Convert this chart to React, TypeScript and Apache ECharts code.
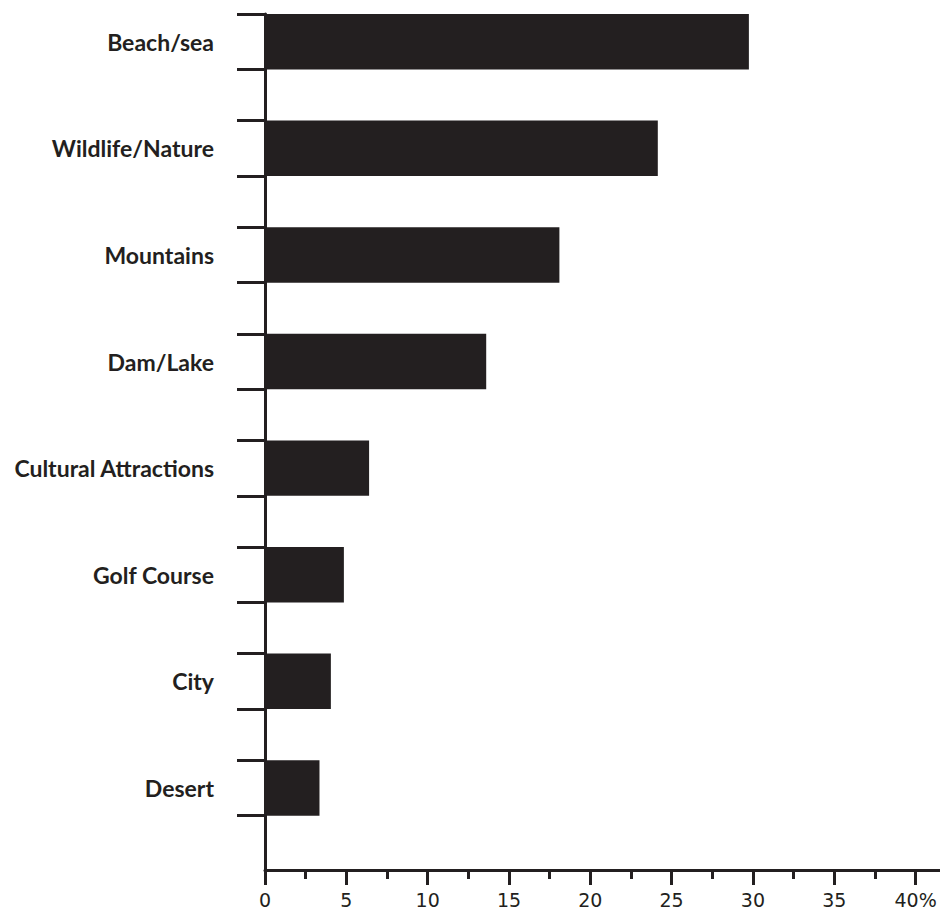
import React, { useEffect, useRef } from "react";
import * as echarts from "echarts";

const categories = [
  "Beach/sea",
  "Wildlife/Nature",
  "Mountains",
  "Dam/Lake",
  "Cultural Attractions",
  "Golf Course",
  "City",
  "Desert",
];
const values = [29.75, 24.15, 18.1, 13.6, 6.4, 4.85, 4.05, 3.35];
const xTickValues = [0, 5, 10, 15, 20, 25, 30, 35, 40];
const xMinorTickValues = [2.5, 7.5, 12.5, 17.5, 22.5, 27.5, 32.5, 37.5];
const xTickLabels = ["0", "5", "10", "15", "20", "25", "30", "35", "40%"];

const BAR_BAND = 0.52;
const INK = "#231f20";

export default function App() {
  const ref = useRef<HTMLDivElement>(null);

  useEffect(() => {
    if (!ref.current) return;
    const chart = echarts.init(ref.current, undefined, { renderer: "svg" });
    const idx = categories.map((_, i) => i);
    const yTicks: number[] = [];
    idx.forEach((i) => {
      yTicks.push(i - BAR_BAND / 2, i + BAR_BAND / 2);
    });
    chart.setOption({
      animation: false,
      backgroundColor: "#ffffff",
      grid: { left: 265, right: 0, top: 14, bottom: 41, containLabel: false },
      xAxis: [
        {
          type: "value",
          position: "bottom",
          min: 0,
          max: 41.5,
          interval: 5,
          splitLine: { show: false },
          axisLine: { show: true, onZero: false, lineStyle: { color: INK, width: 3 } },
          axisTick: {
            show: true,
            customValues: xTickValues,
            length: 15,
            lineStyle: { color: INK, width: 3 },
          },
          axisLabel: {
            customValues: xTickValues,
            formatter: (v: number) => {
              const k = xTickValues.indexOf(v);
              return k >= 0 ? xTickLabels[k] : "";
            },
            color: INK,
            fontFamily: "DejaVu Sans",
            fontSize: 19,
            lineHeight: 19,
            margin: 20,
          },
        },
        {
          type: "value",
          position: "bottom",
          min: 0,
          max: 41.5,
          interval: 5,
          splitLine: { show: false },
          axisLine: { show: false, onZero: false },
          axisTick: {
            show: true,
            customValues: xMinorTickValues,
            length: 9,
            lineStyle: { color: INK, width: 3 },
          },
          axisLabel: { show: false },
        },
      ],
      yAxis: {
        type: "value",
        inverse: true,
        min: -BAR_BAND / 2,
        max: 7.77,
        splitLine: { show: false },
        axisLine: { show: true, onZero: false, lineStyle: { color: INK, width: 3 } },
        axisTick: {
          show: true,
          customValues: yTicks,
          length: 28,
          lineStyle: { color: INK, width: 3 },
        },
        axisLabel: {
          customValues: idx,
          formatter: (v: number) => categories[Math.round(v)] ?? "",
          color: INK,
          fontFamily: "Lato",
          fontWeight: "bold",
          fontSize: 23,
          margin: 51,
        },
      },
      series: [
        {
          type: "custom",
          xAxisIndex: 0,
          yAxisIndex: 0,
          data: values.map((v, i) => [v, i]),
          renderItem: (params: any, api: any) => {
            const v = api.value(0);
            const i = api.value(1);
            const start = api.coord([0, i]);
            const end = api.coord([v, i]);
            const h = api.size([0, BAR_BAND])[1];
            return {
              type: "rect",
              shape: {
                x: start[0],
                y: start[1] - h / 2,
                width: end[0] - start[0],
                height: h,
              },
              style: { fill: INK },
            };
          },
        },
      ],
    });
    return () => chart.dispose();
  }, []);

  return (
    <div
      ref={ref}
      style={{
        position: "fixed",
        left: 0,
        top: 0,
        width: 940,
        height: 911,
        background: "#ffffff",
      }}
    />
  );
}
